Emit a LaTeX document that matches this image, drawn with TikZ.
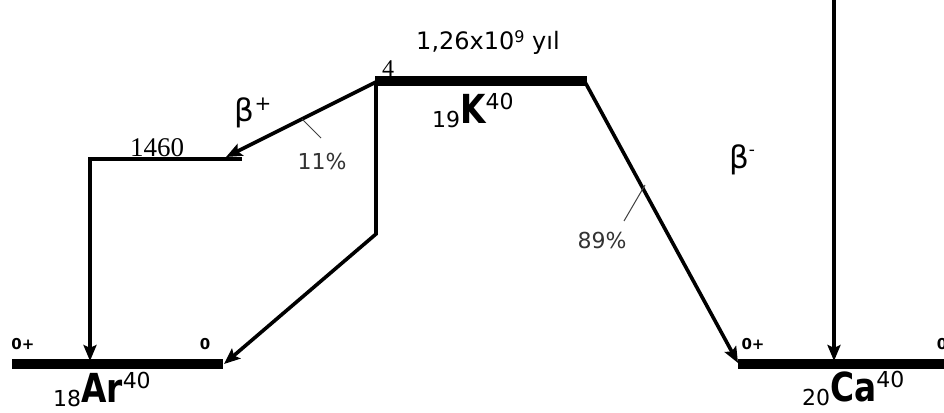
\documentclass[tikz,border=0pt]{standalone}
\usepackage{fontspec}
\setmainfont{DejaVu Sans}
\newfontfamily\seriffont{Liberation Serif}
\usetikzlibrary{arrows.meta}
\newcommand{\nucl}[3]{\raisebox{-4pt}{\fontsize{22}{24}\selectfont #1}\scalebox{0.82}[1]{\fontsize{40}{42}\selectfont\bfseries #2}\raisebox{14pt}{\fontsize{22}{24}\selectfont #3}}
\begin{document}
\begin{tikzpicture}[x=1pt,y=-1pt,
  levelline/.style={line width=9.5pt},
  midline/.style={line width=4.5pt},
  arr/.style={line width=3.6pt,line join=miter,-{Stealth[length=16pt,width=13pt,inset=3pt]}},
  tickline/.style={line width=1pt,black!75},
  lbl/.style={inner sep=0pt},
  spin/.style={inner sep=0pt,font=\fontsize{15}{16}\selectfont\bfseries},
  pct/.style={inner sep=0pt,text=black!80,font=\fontsize{22}{24}\selectfont}]
\useasboundingbox (0,0) rectangle (944,412);
% level end points
\coordinate (Arl) at (12,364);
\coordinate (Arr) at (223,364);
\coordinate (Cal) at (738,364);
\coordinate (Car) at (952,364);
\coordinate (Kl) at (375,81);
\coordinate (Kr) at (587,81);
\coordinate (Pl) at (88,159);
\coordinate (Pr) at (242,159);
% arrow end points
\coordinate (Ks) at (376,82);
\coordinate (Kbend) at (376,234);
\coordinate (Ptip) at (226,157);
\coordinate (ArTipA) at (224,364);
\coordinate (Ptop) at (90,159);
\coordinate (ArTipB) at (90,361);
\coordinate (Kre) at (585,82);
\coordinate (CaTipA) at (738,363);
\coordinate (CaTop) at (834,0);
\coordinate (CaTipB) at (834,361);
% ticks
\coordinate (t1a) at (302,119);
\coordinate (t1b) at (321,138);
\coordinate (t2a) at (645,185);
\coordinate (t2b) at (624,221);
% levels
\draw[levelline] (Arl) -- (Arr);
\draw[levelline] (Cal) -- (Car);
\draw[levelline] (Kl) -- (Kr);
\draw[midline] (Pl) -- (Pr);
% transitions
\draw[arr] (Ks) -- (Ptip);
\draw[arr] (Ks) -- (Kbend) -- (ArTipA);
\draw[arr] (Ptop) -- (ArTipB);
\draw[arr] (Kre) -- (CaTipA);
\draw[arr] (CaTop) -- (CaTipB);
\draw[tickline] (t1a) -- (t1b);
\draw[tickline] (t2a) -- (t2b);
% labels
\node[lbl,anchor=base] (half) at (488,50) {\fontsize{24}{26}\selectfont 1,26x10\raisebox{7pt}{\fontsize{16}{17}\selectfont 9} yıl};
\node[lbl,anchor=base] (four) at (388,77) {\seriffont\fontsize{24}{25}\selectfont 4};
\node[lbl,anchor=base] (e1460) at (157,156) {\seriffont\fontsize{27}{28}\selectfont 1460};
\node[lbl] (bplus) at (253,113) {\fontsize{31}{33}\selectfont β\raisebox{11pt}{\fontsize{20}{21}\selectfont +}};
\node[lbl] (bminus) at (742,160) {\fontsize{31}{33}\selectfont β\raisebox{13pt}{\fontsize{17}{17}\selectfont -}};
\node[pct] (p11) at (322,161) {11\%};
\node[pct] (p89) at (602,240) {89\%};
\node[lbl,anchor=base west] (K) at (432,123) {\nucl{19}{K}{40}};
\node[lbl,anchor=base west] (Ar) at (53,402) {\nucl{18}{Ar}{40}};
\node[lbl,anchor=base west] (Ca) at (802,401) {\nucl{20}{Ca}{40}};
\node[spin] (s1) at (23,344) {0+};
\node[spin] (s2) at (205,344) {0};
\node[spin] (s3) at (753,344) {0+};
\node[spin] (s4) at (942,344) {0};
\end{tikzpicture}
\end{document}
